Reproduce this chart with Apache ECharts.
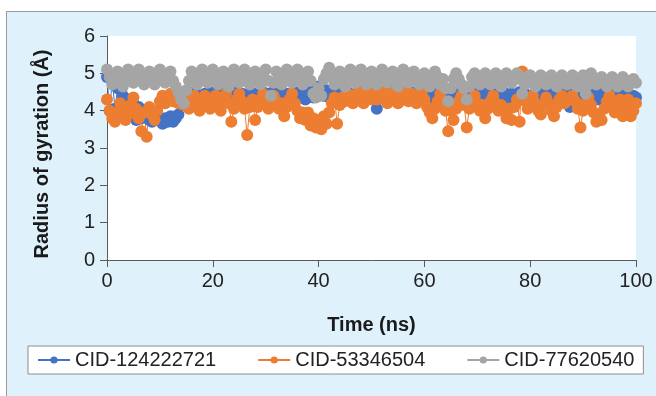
<!DOCTYPE html>
<html><head><meta charset="utf-8">
<script src="https://cdn.jsdelivr.net/npm/echarts@6/dist/echarts.min.js"></script>
<style>
html,body{margin:0;padding:0;background:#fff;width:656px;height:396px;overflow:hidden;}
#panel{position:absolute;left:6px;top:11px;width:700px;height:420px;background:#dff1fa;border:1px solid #9a9a9a;}
#chart{position:absolute;left:0;top:0;width:656px;height:396px;}
</style></head><body>
<div id="panel"></div><div id="chart"></div>
<script>
// Sampling step of the trajectories (ns)
const timeStepNs = 0.5;
const seriesNames = ['CID-124222721', 'CID-53346504', 'CID-77620540'];
const xTicks = [0, 20, 40, 60, 80, 100];
const yTicks = [0, 1, 2, 3, 4, 5, 6];

const cid124222721 = [
4.9,4.0,4.85,4.05,4.6,3.95,4.4,3.8,4.3,3.85,4.2,3.75,4.1,3.8,4.0,3.85,3.75,3.7,3.9,3.75,
3.8,3.65,3.8,3.7,3.85,3.7,3.8,3.9,4.2,4.4,4.3,4.45,4.35,4.5,4.3,4.4,4.25,4.45,4.35,4.5,
4.4,4.3,4.5,4.35,4.45,4.3,4.5,4.4,4.35,4.5,4.3,4.45,4.4,4.3,4.5,4.35,4.45,4.3,4.4,4.5,
4.35,4.45,4.3,4.5,4.4,4.35,4.5,4.3,4.45,4.4,4.3,4.5,4.35,4.45,4.4,4.3,4.5,4.45,4.35,4.6,
4.65,4.5,4.4,4.55,4.35,4.5,4.6,4.4,4.3,4.45,4.35,4.5,4.4,4.3,4.45,4.35,4.5,4.4,4.3,4.45,
4.4,4.3,4.05,4.35,4.5,4.4,4.45,4.65,4.4,4.35,4.5,4.4,4.3,4.45,4.35,4.5,4.4,4.3,4.45,4.35,
4.4,4.3,4.45,4.35,4.5,4.4,4.3,4.45,4.35,4.4,4.3,4.45,4.5,4.35,4.4,4.3,4.45,4.35,4.5,4.4,
4.35,4.45,4.3,4.4,4.5,4.35,4.45,4.3,4.4,4.35,4.5,4.4,4.3,4.45,4.35,4.4,4.5,4.3,4.45,4.35,
4.4,4.3,4.45,4.35,4.5,4.4,4.3,4.45,4.35,4.4,4.3,4.45,4.4,4.35,4.5,4.1,4.15,4.4,4.35,4.45,
4.4,4.3,4.45,4.35,4.5,4.4,4.3,4.45,4.35,4.4,4.3,4.45,4.4,4.35,4.5,4.4,4.3,4.45,4.35,4.4,
4.35];

const cid53346504 = [
4.3,4.0,3.8,3.7,3.95,4.2,4.0,3.75,3.9,4.15,4.35,4.05,3.8,3.45,3.95,3.3,4.1,3.9,3.75,4.0,
4.25,4.4,4.2,4.35,4.45,4.25,4.4,4.2,4.35,4.15,4.3,4.05,4.2,4.4,4.15,4.0,4.2,4.4,4.25,4.05,
4.2,4.4,4.2,4.0,4.25,4.45,4.2,3.7,4.05,4.3,4.45,4.25,4.05,3.35,4.1,4.3,3.75,4.1,4.3,4.45,
4.25,4.05,4.2,4.4,4.25,4.05,4.2,3.85,4.1,4.3,4.45,4.2,4.0,3.8,3.95,3.75,3.95,3.6,3.8,3.55,
3.75,3.5,3.85,3.65,3.95,4.2,4.35,3.65,4.15,4.35,4.25,4.45,4.3,4.2,4.4,4.5,4.3,4.2,4.4,4.5,
4.3,4.45,4.3,4.4,4.5,4.3,4.2,4.35,4.5,4.3,4.2,4.4,4.5,4.3,4.25,4.45,4.3,4.2,4.4,4.5,
4.3,4.1,3.95,3.8,4.05,4.25,4.45,4.2,4.0,3.45,4.0,3.75,4.05,4.25,4.4,4.15,3.55,4.05,4.25,4.4,
4.2,4.0,4.15,3.8,4.05,4.25,4.4,4.2,4.0,4.15,4.0,3.8,4.05,3.75,4.1,4.3,3.7,5.05,4.25,4.05,
4.25,4.4,4.2,4.0,3.9,4.15,4.35,4.2,4.0,3.85,4.1,4.3,4.4,4.2,4.3,4.3,4.4,4.25,4.05,3.55,
4.0,4.2,4.35,4.15,3.95,3.7,3.9,3.75,4.05,4.25,4.4,4.15,3.95,4.1,4.3,3.85,4.1,4.3,3.85,4.0,
4.2];

const cid77620540 = [
5.1,4.9,4.7,4.85,5.05,4.8,4.65,4.9,5.1,4.95,4.75,4.9,5.1,4.85,4.7,4.9,5.05,4.8,4.7,4.95,
5.1,4.9,4.75,4.85,5.05,4.8,4.65,4.5,4.3,4.2,4.55,4.8,5.05,4.9,4.7,4.85,5.1,4.95,4.75,4.9,
5.1,4.9,4.7,4.85,5.05,4.8,4.65,4.9,5.1,4.95,4.75,4.9,5.1,4.85,4.7,4.9,5.05,4.8,4.7,4.95,
5.1,4.8,4.4,4.75,5.05,4.85,4.7,4.9,5.1,4.95,4.75,4.9,5.1,4.85,4.7,4.9,5.05,4.8,4.45,4.35,
4.6,4.4,4.85,5.0,5.15,4.9,4.7,4.85,5.05,4.8,4.65,4.9,5.1,4.95,4.75,4.9,5.1,4.85,4.7,4.9,
5.05,4.8,4.7,4.95,5.1,4.9,4.75,4.85,5.05,4.8,4.65,4.9,5.1,4.95,4.75,4.9,5.05,4.85,4.7,4.9,
5.0,4.8,4.65,4.85,5.05,4.9,4.7,4.85,4.6,4.25,4.6,4.85,5.0,4.85,4.7,4.6,4.3,4.65,4.9,5.0,
4.85,4.7,4.9,5.0,4.85,4.7,4.9,5.0,4.8,4.65,4.85,5.0,4.9,4.75,4.85,5.0,4.85,4.45,4.7,4.9,
4.95,4.8,4.65,4.8,4.95,4.85,4.7,4.8,4.95,4.8,4.65,4.8,4.95,4.85,4.7,4.8,4.95,4.8,4.65,4.85,
4.95,4.45,4.7,5.0,4.85,4.7,4.8,4.9,4.75,4.65,4.8,4.9,4.75,4.65,4.8,4.9,4.75,4.65,4.8,4.85,
4.75];

const colors = ['#4472c4', '#ed7d31', '#a5a5a5'];
const valueSets = [cid124222721, cid53346504, cid77620540];
const FONT = "'Liberation Sans', Arial, sans-serif";
const DOT = 'path://M0,-10A10,10,0,1,1,0,10A10,10,0,1,1,0,-10Z';

function pairs(vals) { return vals.map((v, i) => [i * timeStepNs, v]); }

const chart = echarts.init(document.getElementById('chart'), null, {renderer: 'canvas'});
chart.setOption({
  animation: false,
  backgroundColor: 'transparent',
  grid: {left: 107, right: 20, top: 36, bottom: 136, show: true, backgroundColor: '#fff', borderWidth: 0},
  xAxis: {
    type: 'value', min: xTicks[0], max: xTicks[xTicks.length - 1], interval: 20,
    name: 'Time (ns)', nameLocation: 'middle', nameGap: 55,
    nameTextStyle: {fontFamily: FONT, fontSize: 20, fontWeight: 'bold', color: '#1a1a1a'},
    axisLine: {show: true, lineStyle: {color: '#595959', width: 1}},
    axisTick: {show: true, length: 7, lineStyle: {color: '#595959'}},
    axisLabel: {fontFamily: FONT, fontSize: 20, color: '#222', margin: 11},
    splitLine: {show: false}
  },
  yAxis: {
    type: 'value', min: yTicks[0], max: yTicks[yTicks.length - 1], interval: 1,
    name: 'Radius of gyration (Å)', nameLocation: 'middle', nameGap: 55,
    nameTextStyle: {fontFamily: FONT, fontSize: 20, fontWeight: 'bold', color: '#1a1a1a', padding: [0, 12, 0, 0]},
    axisLine: {show: true, lineStyle: {color: '#595959', width: 1}},
    axisTick: {show: true, length: 7, lineStyle: {color: '#595959'}},
    axisLabel: {fontFamily: FONT, fontSize: 20, color: '#222', margin: 12},
    splitLine: {show: false}
  },
  legend: {
    left: 28, top: 346, padding: [4, 9, 4, 9], itemGap: 41,
    backgroundColor: '#fff', borderColor: '#8c8c8c', borderWidth: 1,
    itemWidth: 32, itemHeight: 9,
    textStyle: {fontFamily: FONT, fontSize: 20, color: '#222'},
    data: seriesNames
  },
  series: seriesNames.map((n, k) => ({
    name: n, type: 'line', data: pairs(valueSets[k]),
    symbol: DOT, symbolSize: 12, showSymbol: true, showAllSymbol: true,
    color: colors[k], lineStyle: {width: 1, color: colors[k]},
    itemStyle: {color: colors[k], borderWidth: 0, opacity: 1}
  }))
});
</script></body></html>
